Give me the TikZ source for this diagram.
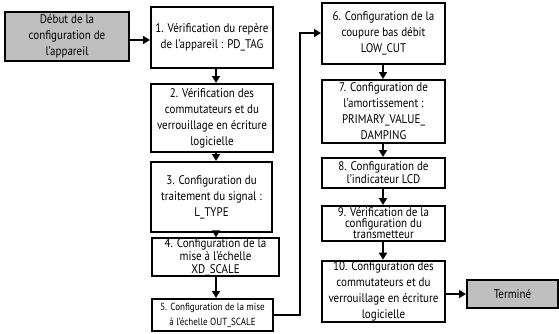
\documentclass[tikz,border=0pt]{standalone}
\usepackage{fontspec}
\setmainfont[FakeStretch=0.88]{PT Sans}
\usetikzlibrary{arrows.meta}
\begin{document}
\begin{tikzpicture}[x=1pt,y=-1pt,
  box/.style={draw=black,line width=2pt,fill=white,align=center,inner sep=1pt,
    font=\fontsize{12.5}{16}\selectfont},
  tight/.style={inner sep=0pt,font=\fontsize{12.5}{13}\selectfont},
  grey/.style={box,fill=black!25},
  conn/.style={line width=2pt,-{Triangle[length=7pt,width=8pt]}}]
\useasboundingbox (0,0) rectangle (559,333);
\node[grey,minimum width=124pt,minimum height=49pt] (start) at (67,36.5) {Début de la\\configuration de\\l'appareil};
\node[box,minimum width=122pt,minimum height=61pt] (b1) at (212,37.5) {1. Vérification du repère\\de l'appareil : PD\_TAG};
\node[box,minimum width=122pt,minimum height=68pt] (b2) at (212,118) {2. Vérification des\\commutateurs et du\\verrouillage en écriture\\logicielle};
\node[box,minimum width=121pt,minimum height=70pt] (b3) at (211.5,197) {3. Configuration du\\traitement du signal :\\L\_TYPE};
\node[box,tight,minimum width=127pt,minimum height=36pt] (b4) at (215.5,257) {4. Configuration de la\\mise à l'échelle\\XD\_SCALE};
\node[box,minimum width=121pt,minimum height=32pt,font=\fontsize{10.3}{15}\selectfont] (b5) at (212.5,315) {5. Configuration de la mise\\à l'échelle OUT\_SCALE};
\node[box,minimum width=123pt,minimum height=61pt] (b6) at (383.5,33.5) {6. Configuration de la\\coupure bas débit\\LOW\_CUT};
\node[box,minimum width=123pt,minimum height=63pt] (b7) at (383.5,111.5) {7. Configuration de\\l'amortissement :\\PRIMARY\_VALUE\_\\DAMPING};
\node[box,tight,minimum width=123pt,minimum height=30pt] (b8) at (383.5,173) {8. Configuration de\\l'indicateur LCD};
\node[box,tight,minimum width=123pt,minimum height=35pt,font=\fontsize{12.5}{11}\selectfont] (b9) at (383.5,223.5) {9. Vérification de la\\configuration du\\transmetteur};
\node[box,minimum width=123pt,minimum height=61pt] (b10) at (383.5,291.5) {10. Configuration des\\commutateurs et du\\verrouillage en écriture\\logicielle};
\node[grey,minimum width=91pt,minimum height=28pt] (end) at (512.5,294) {Terminé};
\coordinate (c1) at (300,315);
\coordinate (c2) at (300,33);
\draw[conn] (start.east |- 0,40) -- (b1.west |- 0,40);
\draw[conn] (b1.south -| 216,0) -- (b2.north -| 216,0);
\draw[conn] (b2.south -| 216,0) -- (b3.north -| 216,0);
\draw[conn] (b3.south -| 216,0) -- (b4.north -| 216,0);
\draw[conn] (b4.south -| 216,0) -- (b5.north -| 216,0);
\draw[conn] (b5.east |- c1) -- (c1) -- (c2) -- (b6.west |- c2);
\draw[conn] (b6.south -| 383,0) -- (b7.north -| 383,0);
\draw[conn] (b7.south -| 383,0) -- (b8.north -| 383,0);
\draw[conn] (b8.south -| 383,0) -- (b9.north -| 383,0);
\draw[conn] (b9.south -| 383,0) -- (b10.north -| 383,0);
\draw[conn] (b10.east |- end) -- (end.west);
\end{tikzpicture}
\end{document}
